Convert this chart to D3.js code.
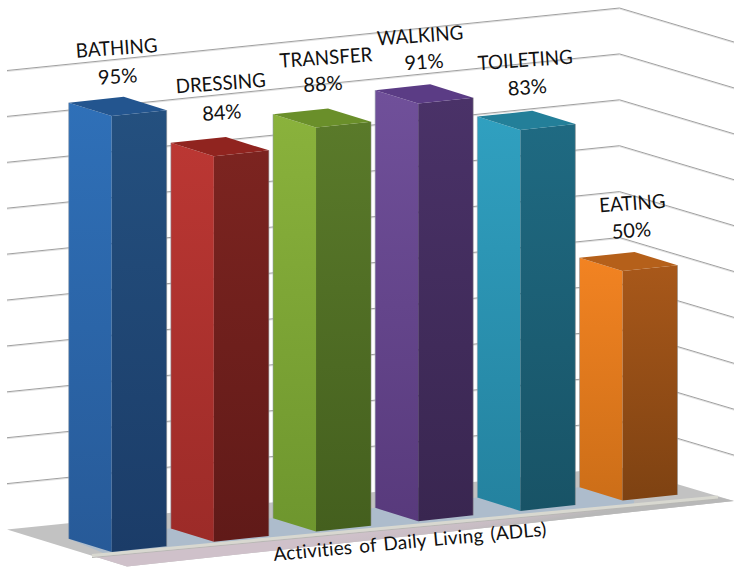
<!DOCTYPE html>
<html><head><meta charset="utf-8">
<script src="https://cdn.jsdelivr.net/npm/d3@7"></script>
<style>html,body{margin:0;padding:0;background:#fff}svg{display:block}text{font-family:Lato,"Open Sans",sans-serif;fill:#111}</style>
</head><body><svg id="c" width="734" height="568"></svg>
<script>
const categories = ["BATHING","DRESSING","TRANSFER","WALKING","TOILETING","EATING"];
const values = [95,84,88,91,83,50];
const gridTicks = d3.range(10,101,10);
const axisTitle = "Activities of Daily Living (ADLs)";
// [left face top, left face bottom, right face top, right face bottom, top face]
const palette = [
 ["#2f70b8","#275a98","#24507f","#1b3c68","#23558f"],
 ["#bb3733","#9c2b28","#7c2420","#601a18","#90241f"],
 ["#8ab23c","#6e962e","#5a7a2a","#445f1e","#6a8f2a"],
 ["#70509a","#583a7c","#4a3268","#392650","#5b3c85"],
 ["#30a0c0","#24829f","#1f6a82","#185366","#237f99"],
 ["#f28322","#cc6e18","#a8581a","#7e4212","#b5601a"]
];
const svg = d3.select("#c");
const X = d3.scalePoint().domain(categories).range([68.7,579.5]);
const H = d3.scaleLinear().domain([0,100]).range([0,459]);
const floorY = d3.scaleLinear().domain([0,categories.length-1]).range([552,500.6]);
const W = {l:43,r:55,dl:13.3,dr:5.8};
const defs = svg.append("defs");
const grad=(id,a,b)=>{const g=defs.append("linearGradient").attr("id",id).attr("x1",0).attr("y1",0).attr("x2",0).attr("y2",1);
  g.append("stop").attr("offset",0).attr("stop-color",a);g.append("stop").attr("offset",1).attr("stop-color",b);};
palette.forEach((p,i)=>{grad("l"+i,p[0],p[1]);grad("r"+i,p[2],p[3]);});
const pg=defs.append("linearGradient").attr("id","pink").attr("gradientUnits","userSpaceOnUse")
  .attr("x1",400).attr("y1",526).attr("x2",404).attr("y2",548);
[[0,"#cfc1ca"],[.6,"#c8bdc4"],[1,"#b8b8b8"]].forEach(s=>pg.append("stop").attr("offset",s[0]).attr("stop-color",s[1]));

// walls
const wall = {left:[7,529.5],apex:[619.5,467],right:[734,501]};
const line = d3.line();
const gridG = svg.append("g");
gridTicks.forEach(t=>{
  const h=H(t);
  const pts=[wall.left,wall.apex,wall.right].map(p=>[p[0],p[1]-h]);
  gridG.append("path").attr("d",line(pts.map(p=>[p[0],p[1]+1]))).attr("fill","none").attr("stroke","#e2e2e2").attr("stroke-width",1);
  gridG.append("path").attr("d",line(pts)).attr("fill","none").attr("stroke","#a0a0a0").attr("stroke-width",1);
});

// floor
const fl = wall, front=[127,566.5];
svg.append("path").attr("d",line([fl.left,fl.apex,fl.right,front])+"Z").attr("fill","#c2c2c2");
const stripL=[92,555.5], stripR=[718,497];
svg.append("path").attr("d",line([stripL,stripR,fl.right,front])+"Z").attr("fill","url(#pink)");
const i0=categories[0], i5=categories[5];
svg.append("path").attr("d",line([
  [X(i0),floorY(0)-W.dl],[X(i5),floorY(5)-W.dl],[X(i5)+W.l+12,floorY(5)],[stripR[0]-85,stripR[1]+9],[X(i0)+W.l-6,floorY(0)+2]
])+"Z").attr("fill","#adbccc");
svg.append("path").attr("d",line([stripL,stripR])).attr("stroke","#b8b8b4").attr("stroke-width",1).attr("fill","none").attr("transform","translate(0,2)");
svg.append("path").attr("d",line([stripL,stripR])).attr("stroke","#d8d8d0").attr("stroke-width",3).attr("fill","none");

// bars
const nameNudge = [[0,4],[2,-1],[5,2],[-3,4],[0,2],[5,4]];
const valueNudge = [[-1,5],[1,1],[0,1],[-1,3],[0,2],[2,4]];
categories.forEach((c,i)=>{
  const xl=X(c), xf=xl+W.l, xr=xf+W.r, yf=floorY(i), h=H(values[i]), g=svg.append("g");
  const yt=yf-h;
  g.append("path").attr("d",line([[xl,yf-W.dl],[xf,yf],[xf,yt],[xl,yt-W.dl]])+"Z").attr("fill",`url(#l${i})`);
  g.append("path").attr("d",line([[xf,yf],[xr,yf-W.dr],[xr,yt-W.dr],[xf,yt]])+"Z").attr("fill",`url(#r${i})`);
  g.append("path").attr("d",line([[xl,yt-W.dl],[xf,yt],[xr,yt-W.dr],[xl+W.r,yt-W.dl-W.dr]])+"Z").attr("fill",palette[i][4]);
  g.append("path").attr("d",line([[xl,yt-W.dl],[xl,yf-W.dl]])).attr("stroke","#8f9aa8").attr("stroke-width",.8).attr("opacity",.7);
  g.append("path").attr("d",line([[xr,yt-W.dr],[xr,yf-W.dr]])).attr("stroke","#8f8f8f").attr("stroke-width",.8).attr("opacity",.7);
  const by=yt-W.dl-W.dr, cx=xf;
  const txt=(s,dx,dy,fs,sx)=>svg.append("text").attr("text-anchor","middle").attr("dominant-baseline","middle")
     .attr("font-size",fs).attr("transform",`translate(${cx+dx},${by+dy}) rotate(-4) scale(${sx},1)`).text(s);
  txt(c,5+nameNudge[i][0],-51+nameNudge[i][1],19.8,.945);
  txt(values[i]+"%",7+valueNudge[i][0],-23.5+valueNudge[i][1],20,1);
});

svg.append("text").attr("text-anchor","middle").attr("dominant-baseline","middle").attr("font-size",19)
  .attr("letter-spacing",0.2).attr("word-spacing",2).attr("transform","translate(410,543.5) rotate(-5.3)").text(axisTitle);
</script></body></html>
